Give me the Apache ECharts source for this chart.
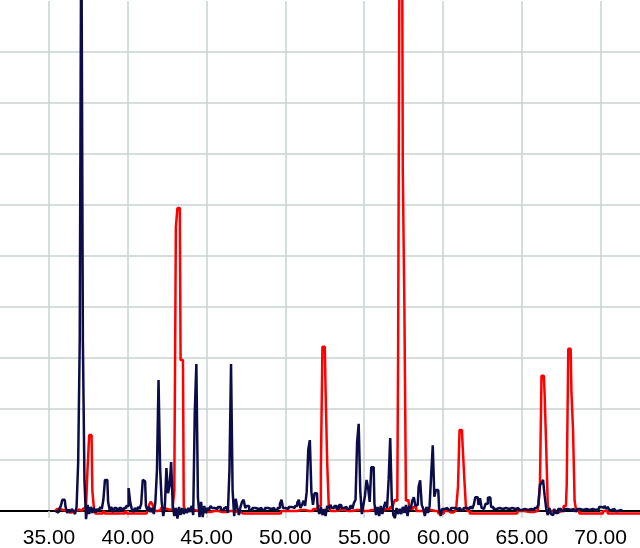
<!DOCTYPE html>
<html>
<head>
<meta charset="utf-8">
<script src="https://cdn.jsdelivr.net/npm/echarts@6/dist/echarts.min.js"></script>
<style>
html,body{margin:0;padding:0;background:#fff;}
#chart{width:640px;height:548px;}
</style>
</head>
<body>
<div id="chart"></div>
<script>
// 2-theta tick labels (x axis)
var xTicks = [35, 40, 45, 50, 55, 60, 65, 70];

// Pattern 1 (dark navy): [2theta, intensity]
var navySeries = [
[35.4,0],[35.6,-3],[35.7,4],[35.8,10],[35.9,22],[36.0,22],[36.1,8],[36.2,-4],[36.3,3],[36.4,-2],[36.5,4],[36.6,0],[36.7,-6],[36.8,8],
[36.9,94],[37.0,333],[37.1,1200],[37.2,333],[37.3,60],[37.4,-16],[37.5,12],[37.6,-6],[37.7,8],[37.8,-4],[37.9,6],[38.0,-3],[38.1,4],
[38.2,0],[38.3,8],[38.4,4],[38.5,22],[38.6,61],[38.7,61],[38.8,18],[38.9,2],[39.0,8],[39.1,-2],[39.2,6],[39.4,0],[39.5,6],[39.7,2],
[39.8,6],[40.0,10],[40.1,45],[40.2,18],[40.3,4],[40.4,-2],[40.5,6],[40.6,0],[40.7,8],[40.8,4],[40.9,14],[41.0,61],[41.1,58],[41.2,10],
[41.3,0],[41.4,8],[41.5,-2],[41.6,6],[41.7,-6],[41.8,18],[41.9,80],[42.0,257],[42.1,84],[42.2,18],[42.3,-10],[42.4,8],[42.5,84],
[42.6,35],[42.7,50],[42.8,96],[42.9,12],[43.0,-10],[43.1,6],[43.2,-15],[43.3,8],[43.4,-8],[43.5,6],[43.6,-6],[43.7,4],[43.8,-4],
[43.9,6],[44.0,-2],[44.1,10],[44.2,-8],[44.3,194],[44.4,288],[44.5,26],[44.6,-12],[44.7,18],[44.8,-12],[44.9,10],[45.0,-4],[45.1,6],
[45.2,2],[45.3,10],[45.4,6],[45.6,4],[45.8,8],[46.0,2],[46.2,6],[46.3,10],[46.4,-4],[46.5,80],[46.6,288],[46.7,40],[46.8,-10],[46.9,24],
[47.0,6],[47.1,-8],[47.2,8],[47.3,18],[47.4,22],[47.5,6],[47.6,10],[47.8,2],[48.0,6],[48.2,4],[48.4,6],[48.6,2],[48.8,6],[49.0,4],
[49.2,6],[49.4,2],[49.6,6],[49.7,14],[49.8,22],[49.9,6],[50.1,4],[50.3,8],[50.5,6],[50.7,10],[50.8,16],[50.9,22],[51.0,6],[51.1,12],
[51.2,20],[51.3,10],[51.4,37],[51.5,120],[51.6,139],[51.7,37],[51.8,12],[51.9,35],[52.0,35],[52.1,6],[52.2,-6],[52.3,8],[52.4,-8],
[52.5,4],[52.6,-10],[52.7,10],[52.8,4],[52.9,12],[53.0,6],[53.2,10],[53.3,4],[53.5,12],[53.6,6],[53.8,8],[54.0,4],[54.2,10],[54.3,4],
[54.4,16],[54.5,22],[54.6,135],[54.7,171],[54.8,40],[54.9,-6],[55.0,12],[55.1,30],[55.2,61],[55.3,45],[55.4,18],[55.5,86],[55.6,86],
[55.7,14],[55.8,-8],[55.9,8],[56.0,-10],[56.1,10],[56.2,-6],[56.3,8],[56.4,18],[56.5,6],[56.6,61],[56.7,143],[56.8,22],[56.9,-8],
[57.0,-14],[57.1,6],[57.2,-6],[57.3,4],[57.4,-6],[57.5,8],[57.6,-4],[57.7,12],[57.8,-10],[57.9,10],[58.0,4],[58.1,20],[58.2,27],
[58.3,10],[58.4,12],[58.5,47],[58.6,60],[58.7,12],[58.8,4],[58.9,-10],[59.0,8],[59.1,-4],[59.2,10],[59.3,71],[59.4,129],[59.5,28],
[59.6,41],[59.7,41],[59.8,6],[59.9,-10],[60.0,4],[60.2,6],[60.4,2],[60.6,6],[60.8,4],[61.0,6],[61.2,2],[61.4,6],[61.6,4],[61.8,8],
[61.9,4],[62.0,12],[62.1,27],[62.2,27],[62.3,12],[62.4,25],[62.5,6],[62.6,4],[62.8,14],[62.9,26],[63.0,27],[63.1,8],[63.3,4],[63.5,6],
[63.7,4],[63.9,6],[64.1,4],[64.3,6],[64.5,4],[64.7,6],[64.9,2],[65.1,4],[65.3,2],[65.5,4],[65.7,2],[65.9,6],[66.0,4],[66.1,12],
[66.2,51],[66.3,55],[66.4,61],[66.5,30],[66.6,4],[66.7,-8],[66.8,6],[66.9,-6],[67.0,-8],[67.1,4],[67.2,-4],[67.4,4],[67.6,0],[67.8,4],
[68.0,2],[68.2,4],[68.4,0],[68.6,4],[68.8,2],[69.0,4],[69.2,2],[69.4,4],[69.6,2],[69.8,4],[70.0,8],[70.1,10],[70.2,6],[70.3,10],
[70.4,4],[70.5,8],[70.6,2],[70.8,4],[71.0,0],[71.2,2],[71.4,0]
];

// Pattern 2 (red): [2theta, intensity]
var redSeries = [
[35.4,0],[35.6,4],[35.8,2],[36.0,0],[36.3,-3],[36.6,0],[36.9,3],[37.1,0],[37.2,4],[37.3,6],[37.4,10],[37.5,86],[37.6,149],[37.7,149],
[37.8,40],[37.9,5],[38.0,-5],[38.4,-5],[38.5,0],[38.6,-5],[39.8,-5],[39.9,0],[40.0,-5],[41.2,-5],[41.3,2],[41.4,12],[41.5,18],[41.6,14],
[41.7,4],[41.8,0],[42.0,2],[42.2,6],[42.4,4],[42.6,2],[42.8,4],[42.9,8],[43.0,40],[43.1,557],[43.2,594],[43.3,594],[43.4,296],[43.5,296],
[43.6,10],[43.7,0],[44.0,2],[44.5,0],[45.0,-2],[45.5,0],[46.0,-2],[46.5,0],[47.0,-2],[47.3,-5],[49.7,-5],[49.8,0],[50.5,0],[51.0,2],
[51.5,0],[52.0,4],[52.2,10],[52.3,80],[52.4,322],[52.5,322],[52.6,237],[52.7,96],[52.8,10],[52.9,0],[53.5,2],[54.0,0],[54.5,2],[55.0,0],
[55.5,2],[56.0,0],[56.5,4],[56.8,8],[56.9,14],[57.0,22],[57.1,20],[57.2,300],[57.3,1200],[57.4,1200],[57.5,665],[57.6,398],[57.7,20],
[57.8,22],[57.9,10],[58.0,4],[58.2,8],[58.4,0],[59.0,2],[59.5,0],[59.9,-5],[60.2,0],[60.5,-3],[60.8,0],[60.9,10],[61.0,47],[61.1,159],
[61.2,159],[61.3,125],[61.4,65],[61.5,10],[61.6,0],[61.8,-5],[64.7,-5],[64.8,0],[65.5,-2],[66.0,0],[66.1,10],[66.2,50],[66.3,265],
[66.4,265],[66.5,227],[66.6,123],[66.7,10],[66.8,0],[67.2,-3],[67.5,0],[67.8,10],[67.9,51],[68.0,318],[68.1,318],[68.2,233],[68.3,159],
[68.4,20],[68.5,0],[68.8,-5],[70.0,-5],[70.3,0],[70.6,-5],[72.6,-5]
];

var gridColor = '#c8d2d2';
var chart = echarts.init(document.getElementById('chart'), null, {renderer: 'canvas'});
chart.setOption({
  animation: false,
  backgroundColor: '#ffffff',
  grid: {left: -29.8, width: 669.8, top: 1, height: 510, containLabel: false, outerBoundsMode: 'none'},
  xAxis: {
    type: 'value', min: 30, max: 72.5, interval: 5,
    axisLine: {show: true, onZero: true, lineStyle: {color: '#000000', width: 2}},
    axisTick: {show: true, length: 7, lineStyle: {color: gridColor, width: 1.5}},
    axisLabel: {
      margin: 17, showMaxLabel: false, color: '#000000',
      fontFamily: 'Liberation Sans', fontSize: 21,
      formatter: function (v) { return xTicks.indexOf(v) >= 0 ? v.toFixed(2) : ''; }
    },
    splitLine: {show: true, showMaxLine: false, lineStyle: {color: gridColor, width: 1.5}}
  },
  yAxis: {
    type: 'value', min: 0, max: 1000, interval: 100,
    axisLine: {show: false}, axisTick: {show: false}, axisLabel: {show: false},
    splitLine: {show: true, showMaxLine: false, lineStyle: {color: gridColor, width: 1.5}}
  },
  series: [
    {type: 'line', data: redSeries, step: 'middle', showSymbol: false, clip: false, z: 3,
     lineStyle: {color: '#ff0000', width: 2.5}},
    {type: 'line', data: navySeries, step: 'middle', showSymbol: false, clip: false, z: 4,
     lineStyle: {color: '#0c0c48', width: 2.5}}
  ]
});
</script>
</body>
</html>
